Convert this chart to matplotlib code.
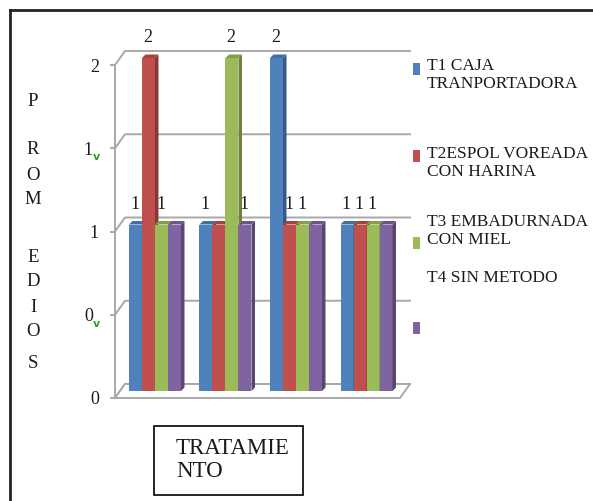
import numpy as np
import matplotlib
matplotlib.use("Agg")
from matplotlib import pyplot as plt
from matplotlib.patches import Rectangle, Polygon
from matplotlib.lines import Line2D

# promedios por tratamiento (4 grupos x 4 series)
series_names = ["T1 CAJA\nTRANPORTADORA", "T2ESPOL VOREADA\nCON HARINA",
                "T3 EMBADURNADA\nCON MIEL", "T4 SIN METODO"]
series_colors = ["#4F81BD", "#C0504D", "#9BBB59", "#8064A2"]
t1 = [1, 1, 2, 1]
t2 = [2, 1, 1, 1]
t3 = [1, 2, 1, 1]
t4 = [1, 1, 1, 1]
values = [t1, t2, t3, t4]
# etiquetas de datos que quedan visibles
show_label = [[True, True, True, True],
              [True, False, True, True],
              [True, True, True, True],
              [False, True, False, False]]
yticks = [0, 0.5, 1, 1.5, 2]
ytick_text = ["0", "0", "1", "1", "2"]

plt.rcParams["font.family"] = ["Liberation Serif", "DejaVu Serif"]

W, H, DPI = 593, 501, 100
fig = plt.figure(figsize=(W / DPI, H / DPI), dpi=DPI)

def px(x0, y0, w, h):
    return [x0 / W, 1 - (y0 + h) / H, w / W, h / H]

ax = fig.add_axes(px(115, 65, 285, 333))
ax.set_xlim(-0.567, 3.475)
ax.set_ylim(0, 2)
ax.axis("off")

# conversion de pixeles a unidades de datos
ux = (3.475 + 0.567) / 285
uy = 2 / 333
wall_dx, wall_dy = 10 * ux, 14 * uy
x0, x1 = -0.567, 3.475

grid_col = "#a8a8a8"
# pared del fondo: lineas de division
for v in yticks:
    ax.plot([x0, x0 + wall_dx, x1 + wall_dx], [v, v + wall_dy, v + wall_dy],
            color=grid_col, lw=1.4, clip_on=False, zorder=1)
    ax.plot([x0 - 4 * ux, x0], [v, v], color=grid_col, lw=1.4, clip_on=False)
# eje vertical frontal
ax.plot([x0, x0], [0, 2], color=grid_col, lw=1.4, clip_on=False, zorder=1)
# piso
floor = Polygon([[x0, 0], [x1, 0], [x1 + wall_dx, wall_dy], [x0 + wall_dx, wall_dy]],
                closed=True, facecolor="white", edgecolor=grid_col, lw=1.4,
                clip_on=False, zorder=2)
ax.add_patch(floor)

# barras con un poco de profundidad
bw = 13 * ux
bdx, bdy = 3.5 * ux, 3.5 * uy
base = 7 * uy
group_x = np.arange(4)

def shade(c, f):
    rgb = np.array(matplotlib.colors.to_rgb(c))
    return tuple(np.clip(rgb * f, 0, 1))

for s in range(4):
    for g in group_x:
        v = values[s][g]
        left = g - 2 * bw + s * bw
        z = 3 + g * 0.1 + s * 0.01
        ax.add_patch(Rectangle((left, base), bw, v, facecolor=series_colors[s],
                               edgecolor="none", clip_on=False, zorder=z))
        ax.add_patch(Polygon([[left + bw, base], [left + bw + bdx, base + bdy],
                              [left + bw + bdx, base + v + bdy], [left + bw, base + v]],
                             facecolor=shade(series_colors[s], 0.7), edgecolor="none",
                             clip_on=False, zorder=z))
        ax.add_patch(Polygon([[left, base + v], [left + bdx, base + v + bdy],
                              [left + bw + bdx, base + v + bdy], [left + bw, base + v]],
                             facecolor=shade(series_colors[s], 0.85), edgecolor="none",
                             clip_on=False, zorder=z))
        if show_label[s][g]:
            ax.text(left + bw / 2 - 1 * ux, base + v + 20 * uy, str(v), ha="center",
                    va="center", fontsize=13, color="#1a1a1a", zorder=10, clip_on=False)

# etiquetas del eje y
for v, t in zip(yticks, ytick_text):
    if v in (0.5, 1.5):
        ax.text(x0 - 22 * ux, v - 2 * uy, t, ha="right", va="center", fontsize=13,
                color="#1a1a1a")
        ax.text(x0 - 22 * ux, v - 9 * uy, "v", ha="left", va="center",
                fontsize=8, color="#2e9a2e", fontweight="bold", family=["DejaVu Sans"])
    else:
        ax.text(x0 - 16 * ux, v - 2 * uy, t, ha="right", va="center", fontsize=13,
                color="#1a1a1a")

# titulo vertical del eje y
for ch, yp in zip("PROMEDIOS", [101, 150, 175, 200, 257, 282, 307, 332, 364]):
    fig.text(33 / W, 1 - yp / H, ch, ha="center", va="center", fontsize=13.5,
             color="#1a1a1a")

# caja del titulo del eje x
fig.add_artist(Rectangle((154 / W, 1 - 495 / H), 149 / W, 69 / H, transform=fig.transFigure,
                         facecolor="white", edgecolor="black", lw=1.2))
fig.text(176 / W, 1 - 460 / H, "TRATAMIE\nNTO", ha="left", va="center", fontsize=16.5,
         linespacing=1.15, color="#1a1a1a")

# leyenda
legend_text_y = [75, 163, 231, 278]
legend_box_y = [63, 150, 237, 322]
for name, col, ty, by in zip(series_names, series_colors, legend_text_y, legend_box_y):
    fig.add_artist(Rectangle((413 / W, 1 - (by + 12) / H), 7 / W, 12 / H,
                             transform=fig.transFigure, facecolor=col, edgecolor="none"))
    fig.text(427 / W, 1 - ty / H, name, ha="left", va="center", fontsize=12.5,
             linespacing=1.2, color="#1a1a1a")

# marco exterior (solo arriba e izquierda)
fig.add_artist(Line2D([10 / W, 10 / W], [0, 1 - 10 / H], transform=fig.transFigure,
                      color="#222222", lw=2))
fig.add_artist(Line2D([10 / W, 1], [1 - 10 / H, 1 - 10 / H], transform=fig.transFigure,
                      color="#222222", lw=2))

fig.savefig("out.png", dpi=DPI)
